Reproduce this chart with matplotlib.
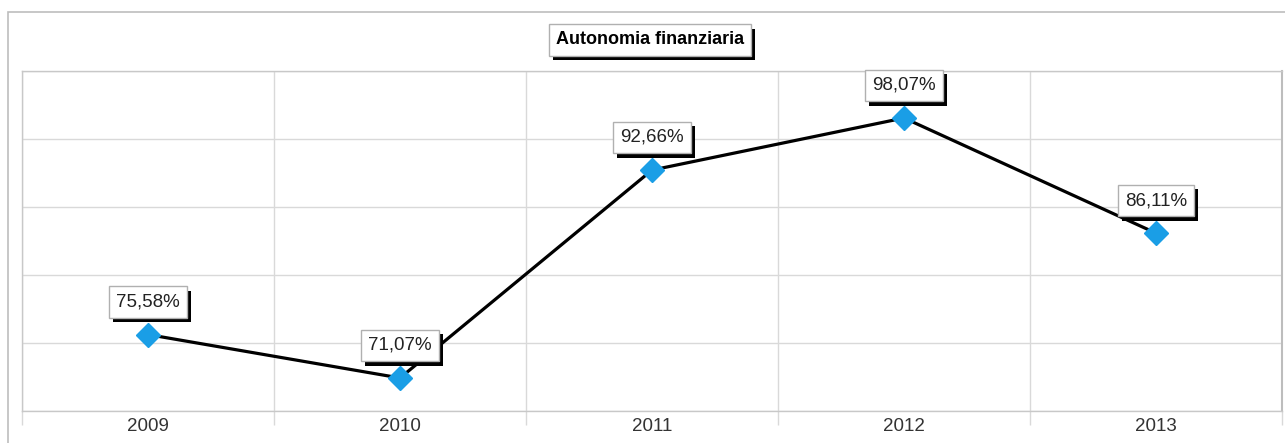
import matplotlib
matplotlib.use("Agg")
import matplotlib.pyplot as plt
import matplotlib.patheffects as pe
from matplotlib.patches import Rectangle
import numpy as np

years = ["2009", "2010", "2011", "2012", "2013"]
values = [75.58, 71.07, 92.66, 98.07, 86.11]
labels = ["75,58%", "71,07%", "92,66%", "98,07%", "86,11%"]
title = "Autonomia finanziaria"

plt.rcParams['font.family'] = ['Liberation Sans', 'DejaVu Sans']

W, H = 1285, 443
fig = plt.figure(figsize=(W / 100, H / 100), dpi=100)

# outer border
fig.patches.append(Rectangle((8 / W, -0.05), 1.1, 1 - 12 / H + 0.05,
                             transform=fig.transFigure, fill=False,
                             edgecolor='#bdbdbd', linewidth=1.2, zorder=0))

ax = fig.add_axes([22 / W, 32 / H, (1282 - 22) / W, (411 - 71) / H])
x = np.arange(len(years))
ymin, ymax = 67.64, 102.95
ax.set_xlim(-0.5, len(years) - 0.5)
ax.set_ylim(ymin, ymax)

grid_c = '#d9d9d9'
ax.set_yticks(np.linspace(ymin, ymax, 6))
ax.tick_params(axis='y', left=False, labelleft=False)
ax.set_xticks(x)
ax.set_xticklabels(years, fontsize=13.5, color='#333333')
ax.set_xticks(np.arange(-0.5, len(years)), minor=True)
ax.tick_params(axis='x', which='major', length=0, pad=5)
ax.tick_params(axis='x', which='minor', length=10, color=grid_c, width=1)
ax.grid(True, axis='y', color=grid_c, linewidth=1)
ax.grid(True, axis='x', which='minor', color=grid_c, linewidth=1)
ax.grid(False, axis='x', which='major')
for s in ax.spines.values():
    s.set_color('#c8c8c8')
    s.set_linewidth(1)
ax.spines['right'].set_color('#bdbdbd')
ax.spines['right'].set_linewidth(1.5)
ax.set_axisbelow(True)

ax.plot(x, values, color='black', linewidth=2.3, zorder=3)
ax.plot(x, values, linestyle='none', marker='D', markersize=12.5,
        markerfacecolor='#1a9ee6', markeredgecolor='#1a9ee6', zorder=4)

shadow = [pe.withSimplePatchShadow(offset=(3, -3.3), shadow_rgbFace='black', alpha=1)]
for xi, v, lab in zip(x, values, labels):
    t = ax.annotate(lab, (xi, v), xytext=(0, 23.5), textcoords='offset points',
                    ha='center', va='center', fontsize=13.5, color='#222222',
                    bbox=dict(boxstyle='square,pad=0.38', facecolor='white',
                              edgecolor='#b0b0b0', linewidth=1),
                    zorder=5)
    t.get_bbox_patch().set_path_effects(shadow)

tt = fig.text(650 / W, 1 - 40 / H, title, ha='center', va='center',
              fontsize=13, fontweight='bold', color='black',
              bbox=dict(boxstyle='square,pad=0.4', facecolor='white',
                        edgecolor='#b0b0b0', linewidth=1))
tt.get_bbox_patch().set_path_effects(shadow)

fig.savefig('out.png', dpi=100)
